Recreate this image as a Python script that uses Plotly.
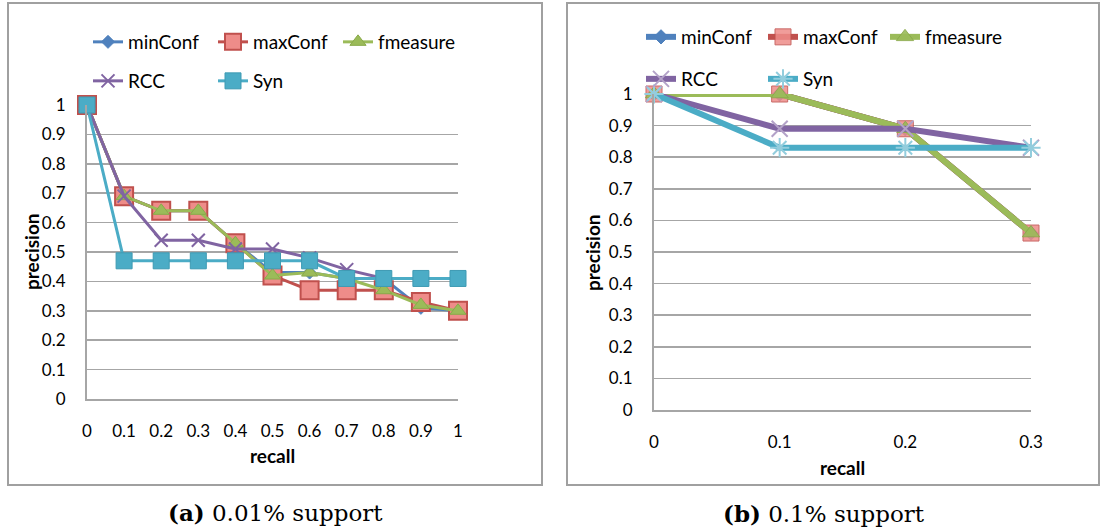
import plotly.graph_objects as go

# ---------------- data ----------------
recall_a = [0, 0.1, 0.2, 0.3, 0.4, 0.5, 0.6, 0.7, 0.8, 0.9, 1.0]
minConf_a = [1, 0.69, 0.64, 0.64, 0.53, 0.43, 0.43, 0.41, 0.41, 0.31, 0.30]
maxConf_a = [1, 0.69, 0.64, 0.64, 0.53, 0.42, 0.37, 0.37, 0.37, 0.33, 0.30]
fmeasure_a = [1, 0.69, 0.64, 0.64, 0.53, 0.42, 0.43, 0.41, 0.37, 0.32, 0.30]
rcc_a = [1, 0.69, 0.54, 0.54, 0.51, 0.51, 0.48, 0.44, 0.41, 0.41, 0.41]
syn_a = [1, 0.47, 0.47, 0.47, 0.47, 0.47, 0.47, 0.41, 0.41, 0.41, 0.41]

recall_b = [0, 0.1, 0.2, 0.3]
minConf_b = [1, 1, 0.89, 0.56]
maxConf_b = [1, 1, 0.89, 0.56]
fmeasure_b = [1, 1, 0.89, 0.56]
rcc_b = [1, 0.89, 0.89, 0.83]
syn_b = [1, 0.83, 0.83, 0.83]

y_ticks = [0, 0.1, 0.2, 0.3, 0.4, 0.5, 0.6, 0.7, 0.8, 0.9, 1.0]
y_ticktext = ["0", "0.1", "0.2", "0.3", "0.4", "0.5", "0.6", "0.7", "0.8", "0.9", "1"]
xa_ticks = [0, 0.1, 0.2, 0.3, 0.4, 0.5, 0.6, 0.7, 0.8, 0.9, 1.0]
xa_ticktext = ["0", "0.1", "0.2", "0.3", "0.4", "0.5", "0.6", "0.7", "0.8", "0.9", "1"]
xb_ticks = [0, 0.1, 0.2, 0.3]
xb_ticktext = ["0", "0.1", "0.2", "0.3"]

# ---------------- geometry helpers ----------------
W, H = 1101, 529
def px(x):
    return x / W
def py(y):
    return 1 - y / H

BLUE = "#4F81BD"
RED = "#C0504D"
RED_FILL = "#EE8C89"
GREEN = "#9BBB59"
PURPLE = "#8064A2"
TEAL = "#4BACC6"
GRID = "#A6A6A6"
FONT = "Lato"

fig = go.Figure()

def add_series(x, y, name, color, lw, marker, xa, ya, legend):
    fig.add_trace(go.Scatter(
        x=x, y=y, name=name, mode="lines+markers",
        line=dict(color=color, width=lw),
        marker=marker, xaxis=xa, yaxis=ya, legend=legend,
        cliponaxis=False,
    ))

# left panel
add_series(recall_a, minConf_a, "minConf", BLUE, 3,
           dict(symbol="diamond", size=10, color=BLUE, line=dict(color=BLUE, width=1)), "x", "y", "legend")
add_series(recall_a, maxConf_a, "maxConf", RED, 3,
           dict(symbol="square", size=18, color=RED_FILL, line=dict(color=RED, width=2)), "x", "y", "legend")
add_series(recall_a, fmeasure_a, "fmeasure", GREEN, 3,
           dict(symbol="triangle-up", size=14, color=GREEN, line=dict(color="#8AAA4A", width=1)), "x", "y", "legend")
add_series(recall_a, rcc_a, "RCC", PURPLE, 3,
           dict(symbol="x-thin", size=13, color=PURPLE, line=dict(color=PURPLE, width=2)), "x", "y", "legend2")
add_series(recall_a, syn_a, "Syn", TEAL, 3,
           dict(symbol="square", size=16, color=TEAL, line=dict(color="#3E9AB3", width=1)), "x", "y", "legend2")

# right panel
add_series(recall_b, minConf_b, "minConf", BLUE, 6,
           dict(symbol="diamond", size=11, color=BLUE, line=dict(color=BLUE, width=1)), "x2", "y2", "legend3")
add_series(recall_b, maxConf_b, "maxConf", RED, 6,
           dict(symbol="square", size=16, color=RED_FILL, line=dict(color=RED, width=1), opacity=0.85), "x2", "y2", "legend3")
add_series(recall_b, fmeasure_b, "fmeasure", GREEN, 6,
           dict(symbol="triangle-up", size=15, color=GREEN, line=dict(color="#8AAA4A", width=1), opacity=0.9), "x2", "y2", "legend3")
add_series(recall_b, rcc_b, "RCC", PURPLE, 6,
           dict(symbol="x-thin", size=16, color=PURPLE, line=dict(color="#B3A2C8", width=2)), "x2", "y2", "legend4")
add_series(recall_b, syn_b, "Syn", TEAL, 6,
           dict(symbol="asterisk", size=16, color=TEAL, line=dict(color="#93CDDD", width=2)), "x2", "y2", "legend4")

tickfont = dict(family=FONT, size=17, color="#000")

def yaxis_cfg(top, bottom, anchor, standoff):
    return dict(domain=[py(bottom), py(top)], range=[0, 1], anchor=anchor,
                tickvals=y_ticks, ticktext=y_ticktext, tickfont=tickfont,
                showgrid=True, gridcolor=GRID, gridwidth=1.5,
                showline=True, linecolor=GRID, linewidth=2, automargin=False,
                zeroline=False, ticks="", ticklabelstandoff=standoff, fixedrange=True)

def xaxis_cfg(left, right, rng, vals, text, anchor, standoff):
    return dict(domain=[px(left), px(right)], range=rng, anchor=anchor,
                tickvals=vals, ticktext=text, tickfont=tickfont, automargin=False,
                showgrid=False, showline=True, linecolor=GRID, linewidth=2,
                zeroline=False, ticks="", ticklabelstandoff=standoff, fixedrange=True)

legend_common = dict(orientation="h", font=dict(family=FONT, size=19, color="#000"),
                     bgcolor="rgba(0,0,0,0)", xanchor="left", yanchor="middle",
                     itemclick=False, itemdoubleclick=False, entrywidthmode="pixels",
                     tracegroupgap=0)

fig.update_layout(
    width=W, height=H, margin=dict(l=0, r=0, t=0, b=0, autoexpand=False),
    paper_bgcolor="white", plot_bgcolor="white",
    xaxis=xaxis_cfg(87, 458, [0, 1], xa_ticks, xa_ticktext, "y", 16),
    yaxis=yaxis_cfg(105, 399, "x", 16),
    xaxis2=xaxis_cfg(654, 1031, [0, 0.3], xb_ticks, xb_ticktext, "y2", 16),
    yaxis2=yaxis_cfg(94, 410, "x2", 16),
    legend=dict(legend_common, x=px(88), y=py(42), entrywidth=80),
    legend2=dict(legend_common, x=px(88), y=py(81), entrywidth=80),
    legend3=dict(legend_common, x=px(641), y=py(37), entrywidth=77),
    legend4=dict(legend_common, x=px(641), y=py(79), entrywidth=77),
    showlegend=True,
    hovermode=False,
)

# panel frames
for x0, x1 in [(8, 542), (567, 1099)]:
    fig.add_shape(type="rect", xref="paper", yref="paper",
                  x0=px(x0), x1=px(x1), y0=py(485), y1=py(3),
                  line=dict(color="#A0A0A0", width=2), fillcolor="rgba(0,0,0,0)", layer="below")

axis_title_font = dict(family=FONT, size=19, color="#000")
annots = [
    dict(text="<b>precision</b>", x=px(31), y=py(252), textangle=-90),
    dict(text="<b>recall</b>", x=px(272), y=py(455)),
    dict(text="<b>precision</b>", x=px(592), y=py(252), textangle=-90),
    dict(text="<b>recall</b>", x=px(842), y=py(467)),
]
for a in annots:
    fig.add_annotation(xref="paper", yref="paper", showarrow=False,
                       font=axis_title_font, xanchor="center", yanchor="middle", **a)

cap_font = dict(family="DejaVu Serif", size=23, color="#000")
fig.add_annotation(text="<b>(a)</b> 0.01% support", x=px(275), y=py(512), xref="paper", yref="paper",
                   showarrow=False, font=cap_font, xanchor="center", yanchor="middle")
fig.add_annotation(text="<b>(b)</b> 0.1% support", x=px(824), y=py(513), xref="paper", yref="paper",
                   showarrow=False, font=cap_font, xanchor="center", yanchor="middle")

fig.write_html("out.html", config={"displayModeBar": False, "staticPlot": True},
               post_script="document.body.style.margin='0';document.body.style.overflow='hidden';")
